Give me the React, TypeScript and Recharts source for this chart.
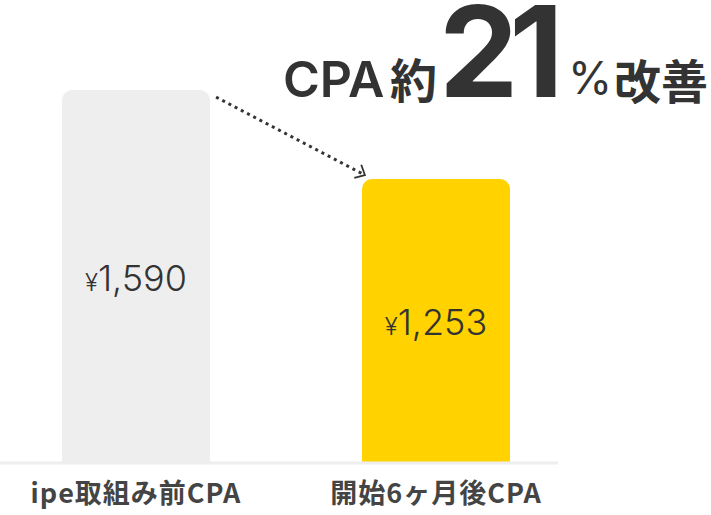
import React from 'react';
import { BarChart, Bar, XAxis, YAxis, LabelList, Cell, ReferenceLine } from 'recharts';

const categories = ['ipe取組み前CPA', '開始6ヶ月後CPA'];
const cpaValues = [1590, 1253];
const barColors = ['#eeeeee', '#ffd200'];
const headline = ['CPA', '約', '21', '%', '改善'];

const data = categories.map((name, i) => ({ idx: i, name, cpa: cpaValues[i] }));

const FONT = "Inter, 'Noto Sans CJK JP', sans-serif";
const JP = "'Noto Sans CJK JP', sans-serif";

const ValueLabel = (props: any) => {
  const { x, y, width, height, value } = props;
  return (
    <text x={x + width / 2} y={y + height / 2} dy={14} textAnchor="middle" fill="#333" fontFamily={FONT} fontWeight={300}>
      <tspan fontSize={24}>¥</tspan>
      <tspan fontSize={36}>{Number(value).toLocaleString('en-US')}</tspan>
    </text>
  );
};

const CategoryTick = (props: any) => {
  const { x, y, payload } = props;
  return (
    <text x={x} y={y} dy={40} textAnchor="middle" fontSize={27} fontWeight={700} fill="#444" fontFamily={JP} letterSpacing={1}>
      {categories[payload.value]}
    </text>
  );
};

const DottedArrow = (props: any) => {
  const { x1, y1, x2, y2 } = props;
  const ang = Math.atan2(y2 - y1, x2 - x1);
  const len = 11;
  const a1 = ang + Math.PI - 0.75;
  const a2 = ang + Math.PI + 0.75;
  return (
    <g>
      <line x1={x1} y1={y1} x2={x2} y2={y2} stroke="#333" strokeWidth={3} strokeDasharray="3 4" />
      <polyline
        points={`${x2 + len * Math.cos(a1)},${y2 + len * Math.sin(a1)} ${x2},${y2} ${x2 + len * Math.cos(a2)},${y2 + len * Math.sin(a2)}`}
        fill="none"
        stroke="#333"
        strokeWidth={1.8}
      />
    </g>
  );
};

export default function App() {
  return (
    <div style={{ position: 'absolute', left: 0, top: 0, width: 711, height: 515, background: '#fff' }}>
      <BarChart width={711} height={515} data={data} margin={{ top: 90, right: 153, bottom: 0, left: 0 }}>
        <YAxis hide type="number" domain={[178, 1590]} allowDataOverflow />
        <XAxis
          dataKey="idx"
          type="number"
          domain={[-0.4533, 1.4067]}
          ticks={[0, 1]}
          allowDataOverflow
          height={52}
          tickLine={false}
          tickSize={0}
          tickMargin={0}
          axisLine={{ stroke: '#eeeeee', strokeWidth: 3 }}
          tick={<CategoryTick />}
        />
        <Bar dataKey="cpa" barSize={148} radius={[10, 10, 0, 0]} isAnimationActive={false}>
          {data.map((d, i) => (
            <Cell key={d.name} fill={barColors[i]} />
          ))}
          <LabelList dataKey="cpa" content={<ValueLabel />} />
        </Bar>
        <ReferenceLine
          segment={[{ x: 0.267, y: 1563 }, { x: 0.763, y: 1268 }]}
          ifOverflow="visible"
          shape={<DottedArrow />}
        />
      </BarChart>
      <svg width={711} height={515} style={{ position: 'absolute', left: 0, top: 0, pointerEvents: 'none' }}>
        <g fill="#333">
          <text x={283} y={97} fontSize={50} fontWeight={600} fontFamily={FONT}>{headline[0]}</text>
          <text x={390} y={98} fontSize={47} fontWeight={700} fontFamily={JP}>{headline[1]}</text>
          <text x={439} y={97} fontSize={126} fontWeight={700} fontFamily={FONT} letterSpacing={-9}>{headline[2]}</text>
          <text x={568} y={94} fontSize={45} fontWeight={400} fontFamily={FONT}>{headline[3]}</text>
          <text x={614} y={99} fontSize={47} fontWeight={700} fontFamily={JP}>{headline[4]}</text>
        </g>
      </svg>
    </div>
  );
}
